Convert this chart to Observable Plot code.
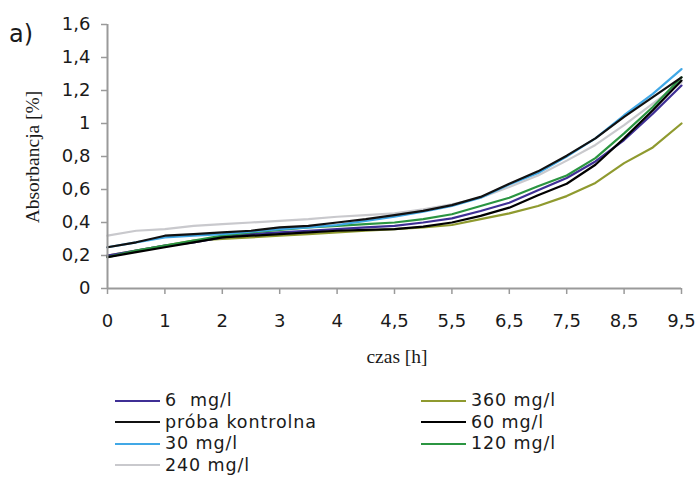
<!DOCTYPE html>
<html>
<head>
<meta charset="utf-8">
<script src="https://cdn.jsdelivr.net/npm/d3@7"></script>
<script src="https://cdn.jsdelivr.net/npm/@observablehq/plot@0.6"></script>
<style>
  body { margin: 0; background: #fff; }
  #wrap { position: relative; width: 698px; height: 477px; background: #fff; overflow: hidden; font-family: "DejaVu Sans", sans-serif; color: #1a1a1a; }
  #chart { position: absolute; left: 0; top: 0; }
  .lbl { position: absolute; white-space: pre; }
  #panel { left: 9px; top: 20px; font-size: 24px; }
  #ylab { left: 33px; top: 157px; font-family: "Liberation Serif", serif; font-size: 19.5px; transform: translate(-50%, -50%) rotate(-90deg); }
  #xlab { left: 397px; top: 357px; font-family: "Liberation Serif", serif; font-size: 19.5px; transform: translate(-50%, -50%); }
  #legend { position: absolute; left: 115px; top: 390px; display: grid; grid-template-columns: 306px 240px; row-gap: 0px; font-size: 17.5px; letter-spacing: 0.9px; line-height: 21.5px; }
  .item { display: flex; align-items: center; white-space: pre; }
  .sw { width: 45px; height: 0; border-top: 2.5px solid; margin-right: 5px; }
</style>
</head>
<body>
<div id="wrap">
  <div id="chart"></div>
  <div class="lbl" id="panel">a)</div>
  <div class="lbl" id="ylab">Absorbancja [%]</div>
  <div class="lbl" id="xlab">czas [h]</div>
  <div id="legend"></div>
</div>
<script>
// Category tick labels (every second sample point)
const xTickLabels = ["0", "1", "2", "3", "4", "4,5", "5,5", "6,5", "7,5", "8,5", "9,5"];
const yTicks = [0, 0.2, 0.4, 0.6, 0.8, 1, 1.2, 1.4, 1.6];

// Series values, sampled at 21 evenly spaced category positions
const s6   = [0.20,0.23,0.26,0.28,0.31,0.33,0.34,0.35,0.36,0.37,0.38,0.40,0.425,0.47,0.52,0.595,0.67,0.77,0.90,1.06,1.23];
const sKon = [0.25,0.28,0.32,0.33,0.34,0.35,0.37,0.38,0.40,0.42,0.445,0.47,0.505,0.555,0.635,0.71,0.805,0.91,1.04,1.16,1.28];
const s30  = [0.25,0.28,0.31,0.32,0.33,0.345,0.36,0.37,0.385,0.41,0.435,0.465,0.50,0.55,0.63,0.70,0.80,0.91,1.05,1.18,1.33];
const s240 = [0.32,0.35,0.36,0.38,0.39,0.40,0.41,0.42,0.435,0.445,0.455,0.48,0.51,0.55,0.615,0.685,0.775,0.87,0.99,1.12,1.25];
const s360 = [0.20,0.23,0.26,0.29,0.30,0.31,0.32,0.33,0.34,0.35,0.36,0.37,0.385,0.42,0.455,0.50,0.56,0.64,0.76,0.855,1.00];
const s60  = [0.19,0.22,0.25,0.28,0.31,0.32,0.33,0.34,0.35,0.355,0.36,0.375,0.40,0.44,0.49,0.565,0.635,0.75,0.91,1.08,1.26];
const s120 = [0.19,0.23,0.26,0.29,0.32,0.34,0.355,0.37,0.38,0.39,0.40,0.42,0.45,0.50,0.55,0.62,0.685,0.79,0.94,1.10,1.28];

const seriesNames  = ["6  mg/l", "360 mg/l", "próba kontrolna", "60 mg/l", "30 mg/l", "120 mg/l", "240 mg/l"];
const seriesValues = [s6, s360, sKon, s60, s30, s120, s240];
const seriesColors = ["#3f2f95", "#8f9a2f", "#111111", "#000000", "#41a8e6", "#2b9541", "#c9c9cd"];
const drawOrder    = [6, 1, 0, 5, 3, 4, 2];

const rows = [];
drawOrder.forEach(k => seriesValues[k].forEach((v, i) => rows.push({series: seriesNames[k], i, v})));

const chart = Plot.plot({
  width: 698,
  height: 378,
  marginLeft: 107,
  marginRight: 17,
  marginTop: 24,
  marginBottom: 90,
  style: {fontFamily: "DejaVu Sans, sans-serif", fontSize: "18px", color: "#1a1a1a", background: "transparent"},
  x: {domain: [0, 20]},
  y: {domain: [0, 1.6]},
  color: {domain: seriesNames, range: seriesColors},
  marks: [
    Plot.axisX({ticks: d3.range(0, 21, 2), tickFormat: i => xTickLabels[i / 2], tickSize: 6, tickPadding: 20, stroke: "#9a9a9a", strokeWidth: 1.5, label: null}),
    Plot.axisY({ticks: yTicks, tickFormat: d => String(d).replace(".", ","), tickSize: 6, tickPadding: 11, stroke: "#9a9a9a", strokeWidth: 1.5, label: null}),
    Plot.line(rows, {x: "i", y: "v", z: "series", stroke: "series", strokeWidth: 2.2}),
    Plot.ruleX([0], {stroke: "#9a9a9a", strokeWidth: 2}),
    Plot.ruleY([0], {stroke: "#9a9a9a", strokeWidth: 2})
  ]
});
document.getElementById("chart").appendChild(chart);

// Legend
const legend = document.getElementById("legend");
seriesNames.forEach((name, k) => {
  const it = document.createElement("div");
  it.className = "item";
  const sw = document.createElement("span");
  sw.className = "sw";
  sw.style.borderTopColor = seriesColors[k];
  const tx = document.createElement("span");
  tx.textContent = name;
  it.appendChild(sw); it.appendChild(tx);
  legend.appendChild(it);
});
</script>
</body>
</html>
